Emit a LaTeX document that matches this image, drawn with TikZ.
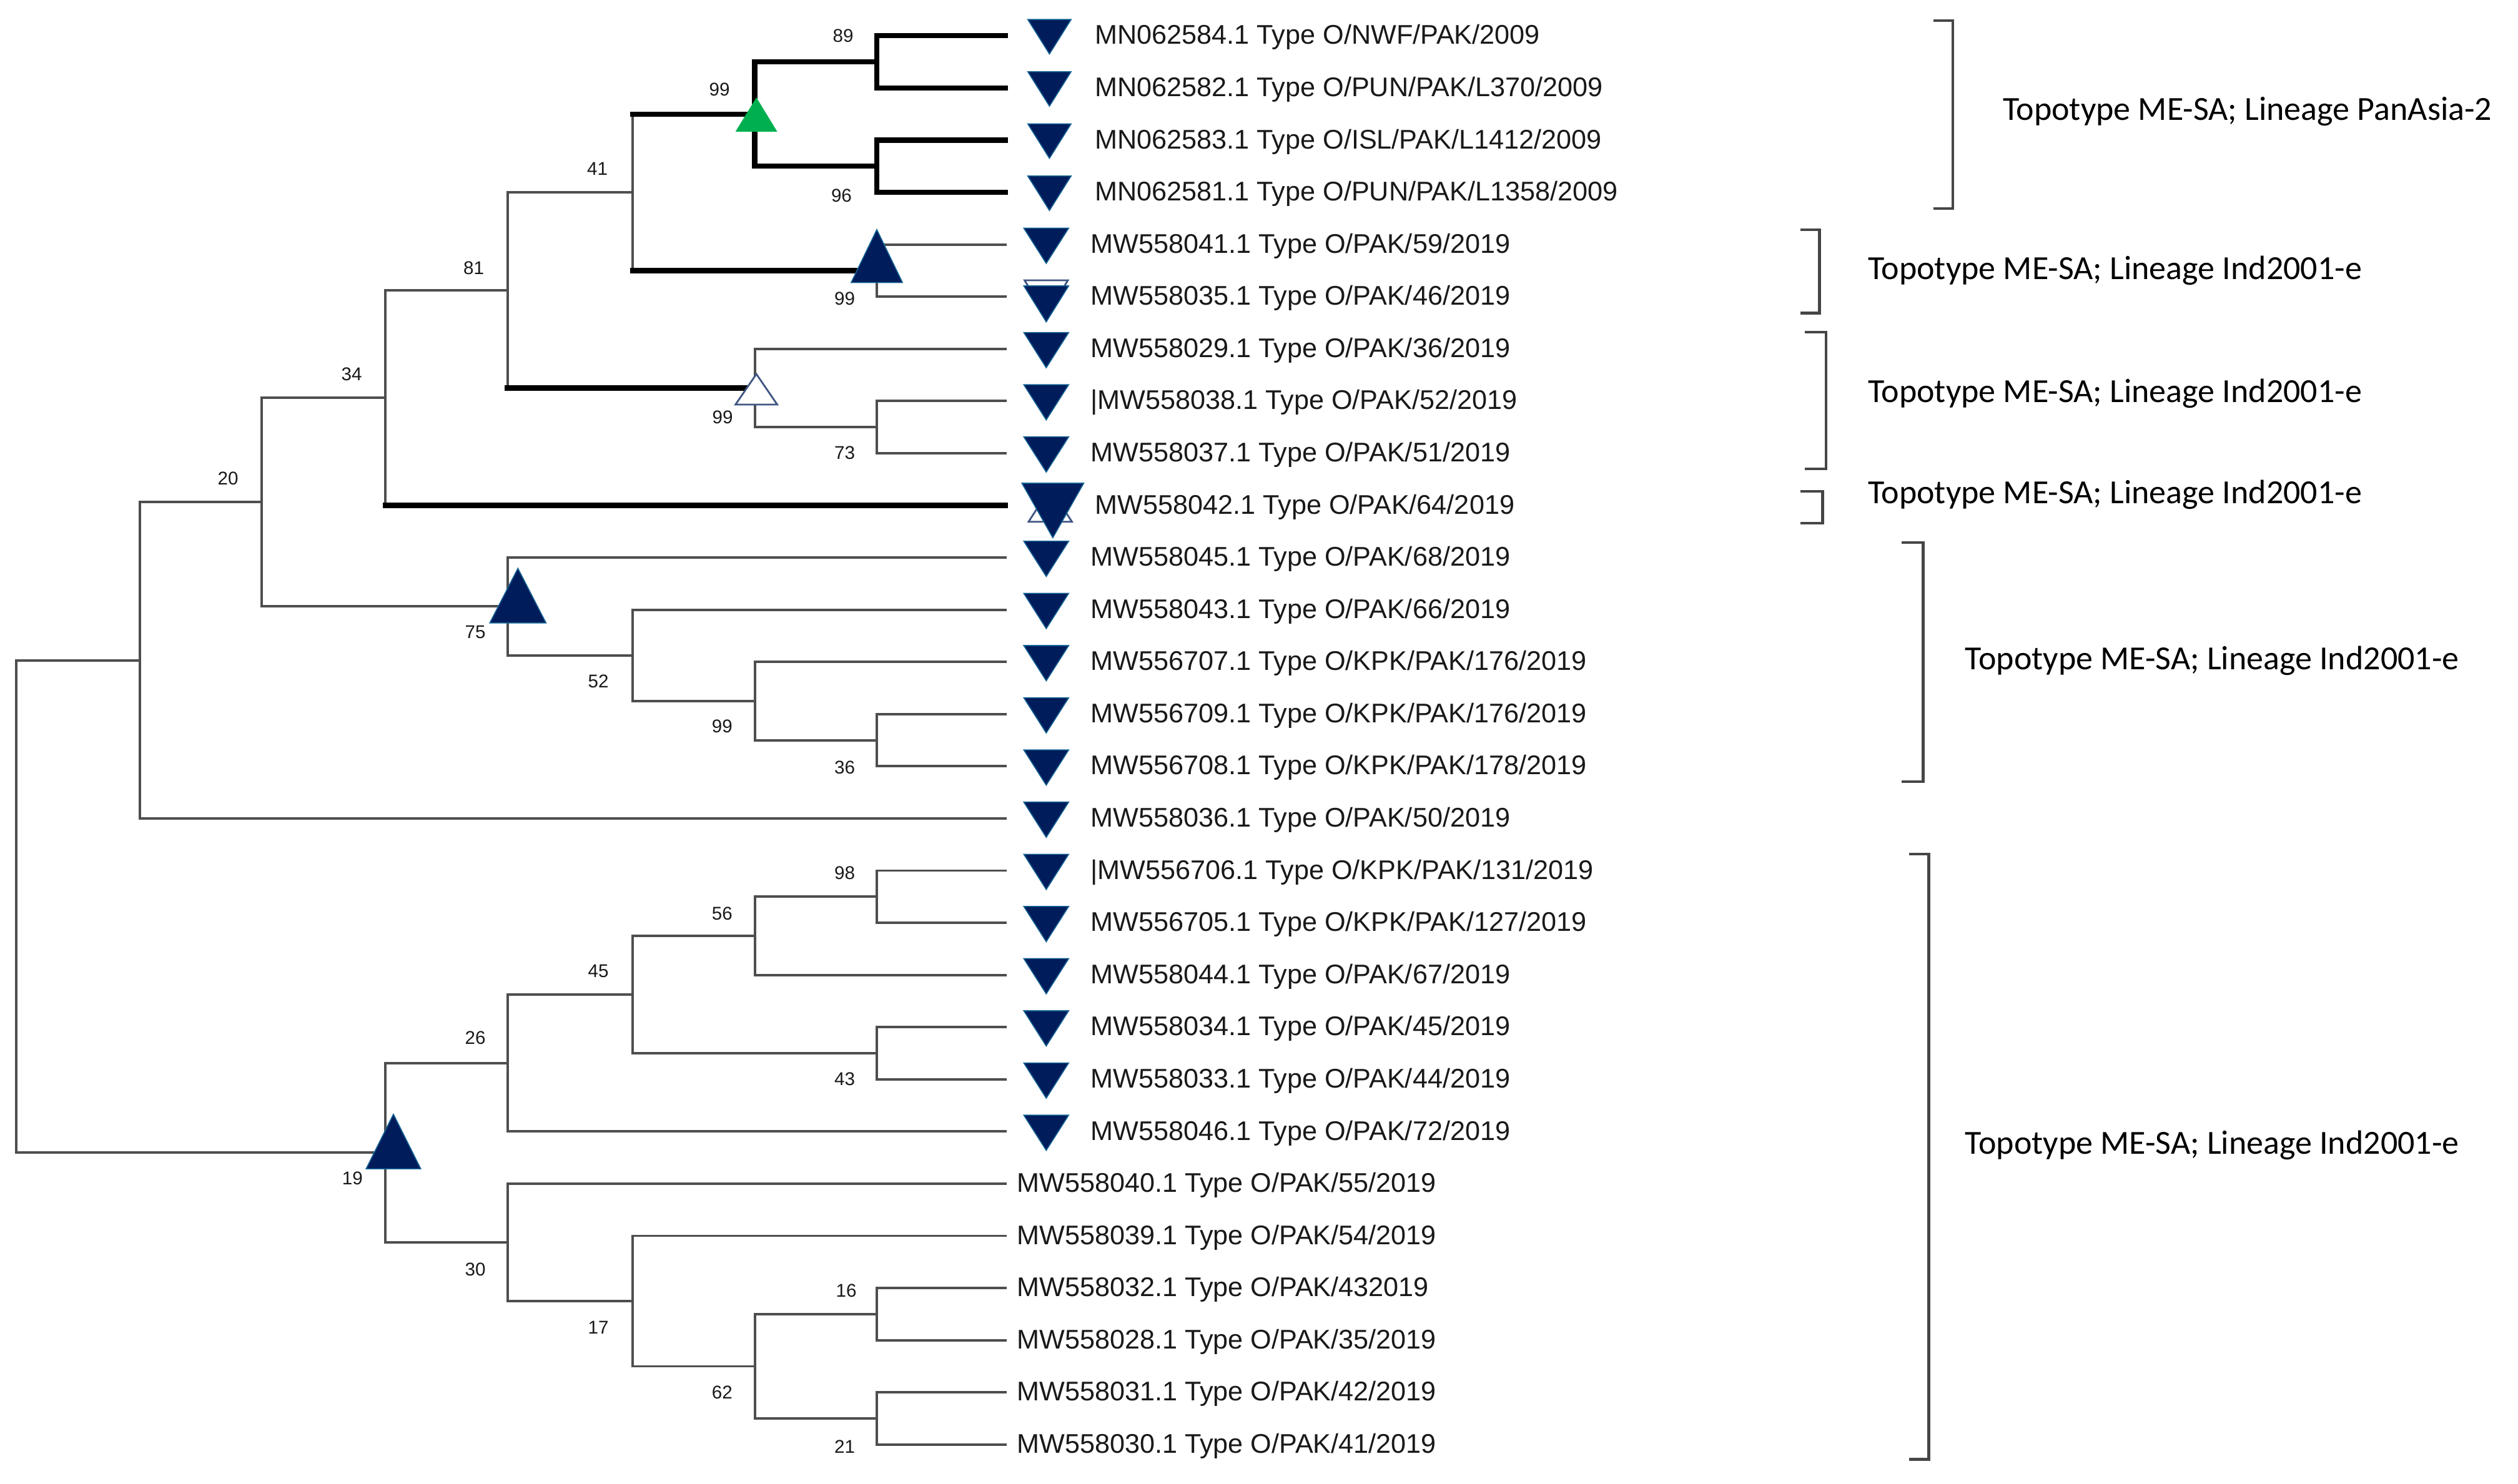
\documentclass[tikz,border=0pt]{standalone}
\usepackage{fontspec}
\usetikzlibrary{calc}
\setmainfont{Liberation Sans}
\newfontfamily\calfont{Carlito}
\definecolor{navyc}{RGB}{0,28,90}
\definecolor{edgec}{RGB}{20,100,150}
\definecolor{greenc}{RGB}{0,176,80}
\definecolor{brc}{RGB}{78,78,78}
\definecolor{bkc}{RGB}{70,70,70}
\definecolor{txc}{RGB}{25,25,25}
\begin{document}
\begin{tikzpicture}[x=1pt,y=-1pt,
  brthin/.style={draw=brc,line width=1.5pt,line cap=rect},
  brthick/.style={draw=black,line width=3.2pt,line cap=rect},
  bslab/.style={font=\fontsize{11.5pt}{12pt}\selectfont,text=txc,inner sep=0pt},
  tiplab/.style={font=\fontsize{16.8pt}{18pt}\selectfont,text=txc,inner sep=0pt,anchor=base west},
  cladelab/.style={font=\calfont\fontsize{21pt}{24pt}\selectfont,text=black,inner sep=0pt,anchor=base west},
  bracketline/.style={draw=bkc,line width=1.7pt},
  pics/uptri/.style 2 args={code={\path[pic actions] (-#1/2,#2/2) -- (#1/2,#2/2) -- (0,-#2/2) -- cycle;}},
  pics/dntri/.style 2 args={code={\path[pic actions] (-#1/2,-#2/2) -- (#1/2,-#2/2) -- (0,#2/2) -- cycle;}},
  navymark/.style={fill=navyc,draw=edgec,line width=0.6pt},
  hollowmark/.style={fill=white,draw=navyc!75!white,line width=1.1pt},
]
\useasboundingbox (0,0) rectangle (1568,924);
\fill[white] (0,0) rectangle (1568,924);

% leaves
\foreach \i in {1,...,28}{\coordinate (l\i) at (626,{22.3+32.5*(\i-1)});}

% internal nodes
\coordinate (A) at (546,38.55);
\coordinate (B) at (546,103.55);
\coordinate (C) at (470,71.05);
\coordinate (D) at (546,168.55);
\coordinate (E) at (394,119.8);
\coordinate (F) at (546,266.05);
\coordinate (G) at (470,241.675);
\coordinate (H) at (316,180.74);
\coordinate (I) at (240,247.77);
\coordinate (J) at (546,461.05);
\coordinate (K) at (470,436.675);
\coordinate (L) at (394,408.24);
\coordinate (M) at (316,377.77);
\coordinate (N) at (163,312.77);
\coordinate (O) at (87,411.28);
\coordinate (P) at (546,558.55);
\coordinate (Q) at (470,582.925);
\coordinate (R) at (546,656.05);
\coordinate (S) at (394,619.49);
\coordinate (T) at (316,662.14);
\coordinate (U) at (546,818.55);
\coordinate (V) at (546,883.55);
\coordinate (W) at (470,851.05);
\coordinate (X) at (394,810.43);
\coordinate (Y) at (316,773.86);
\coordinate (Z) at (240,718.0);
\coordinate (Rt) at (10,564.64);

% verticals
\foreach \p/\a/\b in {Rt/O/Z, O/N/l16, N/I/M, I/H/l10, H/E/G, E/C/D, D/l5/l6, G/l7/F, F/l8/l9,
  M/l11/L, L/l12/K, K/l13/J, J/l14/l15, Z/T/Y, T/S/l22, S/Q/R, Q/P/l19, P/l17/l18, R/l20/l21,
  Y/l23/X, X/l24/W, W/U/V, U/l25/l26, V/l27/l28}
  {\draw[brthin] (\p |- \a) -- (\p |- \b);}
\foreach \p/\a/\b in {C/A/B, A/l1/l2, B/l3/l4}
  {\draw[brthick] (\p |- \a) -- (\p |- \b);}

% horizontal branches
\foreach \p/\c in {Rt/O, Rt/Z, O/N, O/l16, N/I, N/M, I/H, H/E, D/l5, D/l6, G/l7, G/F, F/l8, F/l9,
  M/l11, M/L, L/l12, L/K, K/l13, K/J, J/l14, J/l15, Z/T, Z/Y, T/S, T/l22, S/Q, S/R, Q/P, Q/l19,
  P/l17, P/l18, R/l20, R/l21, Y/l23, Y/X, X/l24, X/W, W/U, W/V, U/l25, U/l26, V/l27, V/l28}
  {\draw[brthin] (\p |- \c) -- (\c);}
\foreach \p/\c in {I/l10, H/G, E/C, E/D, C/A, C/B, A/l1, A/l2, B/l3, B/l4}
  {\draw[brthick] (\p |- \c) -- (\c);}

% internal node markers
\pic[fill=greenc] at (471,71.35) {uptri={26}{21.3}};
\pic[navymark] at (546,159.5) {uptri={32}{33}};
\pic[hollowmark] at (471,242.5) {uptri={26}{19}};
\pic[navymark] at (322.5,371) {uptri={35}{34}};
\pic[navymark] at (245,711) {uptri={34}{34}};

% leaf markers
\foreach \i in {1,...,4}{\pic[navymark] at ($(l\i)+(27.5,0.6)$) {dntri={27}{21.5}};}
\foreach \i in {5,7,8,9,11,12,13,14,15,16,17,18,19,20,21,22}{\pic[navymark] at ($(l\i)+(25.5,0.8)$) {dntri={28}{22}};}
\pic[hollowmark] at ($(l6)+(25.5,0.8)$) {dntri={27}{22}};
\pic[navymark] at ($(l6)+(25.5,4.5)$) {dntri={28}{22.5}};
\pic[hollowmark] at ($(l10)+(28,-0.3)$) {uptri={27}{21}};
\pic[navymark] at ($(l10)+(29.6,3.2)$) {dntri={38.5}{34}};

% tip labels
\node[tiplab] (t1) at ($(l1)+(55.7,5.3)$) {MN062584.1 Type O/NWF/PAK/2009};
\node[tiplab] (t2) at ($(l2)+(55.7,5.3)$) {MN062582.1 Type O/PUN/PAK/L370/2009};
\node[tiplab] (t3) at ($(l3)+(55.7,5.3)$) {MN062583.1 Type O/ISL/PAK/L1412/2009};
\node[tiplab] (t4) at ($(l4)+(55.7,5.3)$) {MN062581.1 Type O/PUN/PAK/L1358/2009};
\node[tiplab] (t5) at ($(l5)+(53,5.3)$) {MW558041.1 Type O/PAK/59/2019};
\node[tiplab] (t6) at ($(l6)+(53,5.3)$) {MW558035.1 Type O/PAK/46/2019};
\node[tiplab] (t7) at ($(l7)+(53,5.3)$) {MW558029.1 Type O/PAK/36/2019};
\node[tiplab] (t8) at ($(l8)+(53,5.3)$) {|MW558038.1 Type O/PAK/52/2019};
\node[tiplab] (t9) at ($(l9)+(53,5.3)$) {MW558037.1 Type O/PAK/51/2019};
\node[tiplab] (t10) at ($(l10)+(55.7,5.3)$) {MW558042.1 Type O/PAK/64/2019};
\node[tiplab] (t11) at ($(l11)+(53,5.3)$) {MW558045.1 Type O/PAK/68/2019};
\node[tiplab] (t12) at ($(l12)+(53,5.3)$) {MW558043.1 Type O/PAK/66/2019};
\node[tiplab] (t13) at ($(l13)+(53,5.3)$) {MW556707.1 Type O/KPK/PAK/176/2019};
\node[tiplab] (t14) at ($(l14)+(53,5.3)$) {MW556709.1 Type O/KPK/PAK/176/2019};
\node[tiplab] (t15) at ($(l15)+(53,5.3)$) {MW556708.1 Type O/KPK/PAK/178/2019};
\node[tiplab] (t16) at ($(l16)+(53,5.3)$) {MW558036.1 Type O/PAK/50/2019};
\node[tiplab] (t17) at ($(l17)+(53,5.3)$) {|MW556706.1 Type O/KPK/PAK/131/2019};
\node[tiplab] (t18) at ($(l18)+(53,5.3)$) {MW556705.1 Type O/KPK/PAK/127/2019};
\node[tiplab] (t19) at ($(l19)+(53,5.3)$) {MW558044.1 Type O/PAK/67/2019};
\node[tiplab] (t20) at ($(l20)+(53,5.3)$) {MW558034.1 Type O/PAK/45/2019};
\node[tiplab] (t21) at ($(l21)+(53,5.3)$) {MW558033.1 Type O/PAK/44/2019};
\node[tiplab] (t22) at ($(l22)+(53,5.3)$) {MW558046.1 Type O/PAK/72/2019};
\node[tiplab] (t23) at ($(l23)+(7,5.3)$) {MW558040.1 Type O/PAK/55/2019};
\node[tiplab] (t24) at ($(l24)+(7,5.3)$) {MW558039.1 Type O/PAK/54/2019};
\node[tiplab] (t25) at ($(l25)+(7,5.3)$) {MW558032.1 Type O/PAK/432019};
\node[tiplab] (t26) at ($(l26)+(7,5.3)$) {MW558028.1 Type O/PAK/35/2019};
\node[tiplab] (t27) at ($(l27)+(7,5.3)$) {MW558031.1 Type O/PAK/42/2019};
\node[tiplab] (t28) at ($(l28)+(7,5.3)$) {MW558030.1 Type O/PAK/41/2019};

% bootstrap values
\node[bslab] (b1) at (525,22.3) {89};
\node[bslab] (b2) at (448,55.8) {99};
\node[bslab] (b3) at (524,121.7) {96};
\node[bslab] (b4) at (372,105) {41};
\node[bslab] (b5) at (295,167) {81};
\node[bslab] (b6) at (526,186) {99};
\node[bslab] (b7) at (219,233) {34};
\node[bslab] (b8) at (450,260) {99};
\node[bslab] (b9) at (526,282) {73};
\node[bslab] (b10) at (142,298) {20};
\node[bslab] (b11) at (296,393.7) {75};
\node[bslab] (b12) at (372.6,424.4) {52};
\node[bslab] (b13) at (449.7,452.5) {99};
\node[bslab] (b14) at (526,477.9) {36};
\node[bslab] (b15) at (526,543.8) {98};
\node[bslab] (b16) at (449.7,569) {56};
\node[bslab] (b17) at (372.6,605) {45};
\node[bslab] (b18) at (296,646.5) {26};
\node[bslab] (b19) at (526,672) {43};
\node[bslab] (b20) at (219.5,734) {19};
\node[bslab] (b21) at (296,790.7) {30};
\node[bslab] (b22) at (527,803.8) {16};
\node[bslab] (b23) at (372.6,827) {17};
\node[bslab] (b24) at (449.7,867.5) {62};
\node[bslab] (b25) at (526,901) {21};

% brackets
\draw[bracketline] (1204,12.9) -- (1216,12.9) -- (1216,130) -- (1204,130);
\draw[bracketline] (1121,143) -- (1133,143) -- (1133,195) -- (1121,195);
\draw[bracketline] (1124,207) -- (1137,207) -- (1137,292) -- (1124,292);
\draw[bracketline] (1121,306) -- (1135,306) -- (1135,326) -- (1121,326);
\draw[bracketline] (1184,338) -- (1197.6,338) -- (1197.6,487) -- (1184,487);
\draw[bracketline] (1189,532) -- (1201,532) -- (1201,909) -- (1189,909);

% clade labels
\node[cladelab] (c1) at (1247,74.8) {Topotype ME-SA; Lineage PanAsia-2};
\node[cladelab] (c2) at (1163,174.2) {Topotype ME-SA; Lineage Ind2001-e};
\node[cladelab] (c3) at (1163,250.6) {Topotype ME-SA; Lineage Ind2001-e};
\node[cladelab] (c4) at (1163,313.5) {Topotype ME-SA; Lineage Ind2001-e};
\node[cladelab] (c5) at (1223.5,417) {Topotype ME-SA; Lineage Ind2001-e};
\node[cladelab] (c6) at (1223.5,718.7) {Topotype ME-SA; Lineage Ind2001-e};
\end{tikzpicture}
\end{document}
